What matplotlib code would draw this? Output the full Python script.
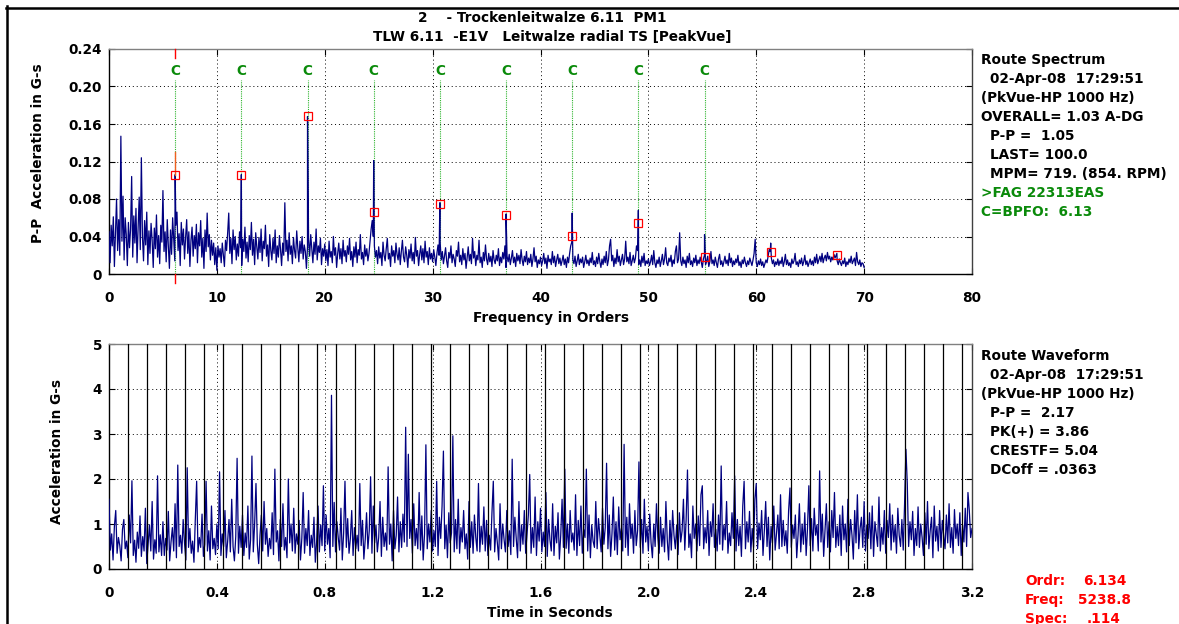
import numpy as np
import matplotlib
matplotlib.use("Agg")
import matplotlib.pyplot as plt
from matplotlib.lines import Line2D

plt.rcParams['font.family'] = ['DejaVu Sans']
plt.rcParams['font.weight'] = 'bold'
plt.rcParams['font.size'] = 10
FS = 9.85

# ---------------- data ----------------
title_line1 = "2    - Trockenleitwalze 6.11  PM1"
title_line2 = "TLW 6.11  -E1V   Leitwalze radial TS [PeakVue]"

# spectrum: noise floor in milli-G, one value per 0.1 order from 0 to 70
spec_step = 0.1
spec_mg = [
    45, 12, 52, 30, 61, 8, 44, 80, 25, 58, 20, 147, 35, 83, 15, 60, 42, 9, 55, 28,
    48, 104, 18, 62, 33, 70, 12, 50, 82, 26, 124, 40, 14, 57, 31, 66, 10, 46, 22, 54,
    36, 7, 49, 27, 63, 18, 41, 11, 52, 34,
    89, 24, 45, 13, 58, 30, 6, 47, 21, 60, 38, 14, 52, 66, 25, 43, 9, 55, 31, 48,
    16, 39, 58, 22, 45, 8, 36, 50, 19, 41, 27, 53, 12, 44, 30, 57, 18, 38, 6, 47,
    24, 65, 29, 42, 15, 36, 20, 33, 10, 28,
    4, 30, 18, 27, 12, 33, 21, 8, 36, 25, 44, 65, 22, 38, 11, 47, 26, 40, 15, 32,
    19, 45, 28, 9, 37, 24, 50, 17, 34, 13, 41, 26, 55, 20, 37, 10, 44, 29, 16, 39,
    23, 48, 14, 35, 27, 52, 19, 31, 8, 42,
    25, 15, 38, 22, 47, 12, 30, 18, 41, 26, 9, 33, 20, 76, 24, 36, 14, 44, 21, 30,
    11, 39, 25, 17, 46, 28, 13, 35, 22, 40, 16, 31, 24, 6, 29, 37, 19, 42, 27, 12,
    34, 21, 48, 15, 30, 23, 38, 10, 27, 19,
    32, 14, 26, 9, 35, 18, 24, 12, 40, 20, 28, 7, 22, 33, 16, 27, 11, 36, 19, 25,
    13, 30, 21, 38, 15, 24, 8, 29, 18, 34, 12, 26, 20, 42, 16, 23, 10, 31, 19, 27,
    14, 22, 35, 48, 57, 40, 30, 18, 25, 11,
    29, 17, 23, 9, 34, 20, 14, 27, 38, 16, 22, 8, 30, 19, 25, 12, 33, 21, 15, 28,
    10, 24, 36, 18, 13, 29, 20, 7, 26, 17, 32, 14, 23, 11, 39, 19, 25, 9, 21, 30,
    15, 27, 12, 35, 18, 24, 10, 28, 16, 22,
    13, 26, 18, 9, 22, 31, 20, 33, 15, 24, 11, 19, 28, 14, 7, 23, 17, 30, 12, 21,
    16, 8, 25, 19, 34, 13, 20, 10, 27, 15, 22, 6, 18, 29, 14, 21, 11, 38, 17, 24,
    9, 20, 15, 36, 12, 18, 7, 23, 14, 31,
    16, 10, 22, 13, 19, 8, 25, 15, 11, 20, 14, 27, 9, 18, 12, 23, 16, 30, 7, 19,
    13, 21, 10, 17, 25, 12, 18, 8, 22, 14, 20, 11, 26, 15, 9, 19, 13, 24, 10, 17,
    12, 21, 8, 16, 28, 13, 19, 7, 15, 11,
    18, 9, 14, 22, 11, 17, 6, 20, 13, 16, 10, 24, 12, 19, 8, 15, 21, 11, 17, 9,
    14, 20, 10, 16, 7, 18, 12, 22, 30, 34, 15, 11, 19, 8, 14, 21, 10, 16, 12, 18,
    7, 13, 20, 11, 15, 9, 17, 12, 23, 10,
    14, 8, 18, 11, 22, 13, 7, 16, 10, 19, 12, 24, 9, 15, 30, 37, 14, 20, 8, 17,
    11, 26, 13, 19, 9, 15, 21, 10, 16, 35, 13, 18, 11, 23, 9, 14, 20, 12, 17, 30,
    25, 10, 15, 8, 19, 12, 22, 9, 14, 11,
    16, 9, 13, 20, 10, 25, 12, 7, 15, 11, 18, 8, 14, 21, 10, 16, 28, 12, 9, 17,
    13, 20, 8, 15, 11, 24, 30, 12, 16, 44, 14, 9, 18, 11, 15, 7, 19, 12, 22, 10,
    14, 8, 17, 12, 20, 9, 15, 11, 18, 13,
    7, 16, 20, 10, 14, 19, 8, 13, 24, 11, 15, 9, 18, 12, 7, 16, 21, 10, 14, 8,
    13, 19, 11, 15, 9, 22, 12, 17, 8, 14, 10, 16, 12, 20, 9, 13, 7, 15, 11, 18,
    12, 8, 14, 10, 17, 13, 9, 15, 22, 37,
    12, 8, 14, 10, 16, 9, 13, 7, 11, 15, 12, 19, 26, 24, 17, 11, 15, 8, 13, 10,
    16, 9, 14, 11, 18, 8, 13, 21, 10, 15, 9, 12, 7, 16, 11, 14, 22, 10, 13, 8,
    15, 11, 17, 9, 13, 20, 10, 14, 8, 12,
    16, 10, 14, 9, 18, 12, 21, 11, 15, 19, 13, 22, 12, 17, 20, 14, 23, 16, 19, 13,
    18, 15, 21, 17, 20, 14, 10, 16, 12, 9, 14, 11, 17, 8, 13, 10, 16, 12, 19, 11,
    14, 17, 9, 23, 13, 10, 15, 8, 12, 11, 7,
]

bpfo_order = 6.134          # cursor / C=BPFO harmonic spacing
n_c_labels = 9
harm_peak_mg = [106, 106, 168, 121, 76, 64, 65, 68, 42, 33, 22]          # spectrum lines at harmonics
harm_marker_mg = [105.6, 105.6, 168, 66.5, 74.7, 63, 40.2, 54.4, 18.5, 23, 20]  # red squares

# waveform: acceleration in 0.01 G, one value every 5 ms from 0 to 3.2 s
wave_step = 0.005
wave_cg = [
    155, 42, 78, 20, 95, 130, 35, 70, 52, 18, 88, 110, 45, 62, 25, 120, 58, 196, 30, 64,
    15, 82, 46, 118, 28, 72, 40, 135, 12, 54, 98, 40, 150, 22, 65, 35, 207, 38, 76, 30,
    105, 30, 68, 42, 128, 18, 60, 92, 40, 145, 25, 231, 50, 75, 35, 110, 58, 20, 225, 48,
    90, 35, 62, 15, 110, 195, 38, 70, 48, 122, 28, 55, 195, 40, 85, 20, 140, 45, 68, 32,
    100, 45, 216, 30, 78, 50, 130, 25, 62, 110, 38, 155, 50, 18, 72, 246, 35, 95, 48, 120,
    30, 80, 48, 140, 22, 65, 251, 38, 100, 190, 55, 12, 75, 120, 40, 150, 55, 90, 28, 68,
    45, 125, 32, 222, 60, 85, 18, 110, 50, 145, 42, 70, 25, 200, 58, 100, 40, 135, 35, 78,
    55, 108, 20, 68, 170, 35, 90, 52, 130, 30, 75, 48, 115, 15, 62, 140, 38, 98, 52, 185,
    40, 120, 55, 90, 25, 386, 50, 148, 38, 105, 70, 42, 135, 20, 80, 195, 48, 112, 35, 68,
    130, 30, 92, 45, 75, 40, 190, 52, 108, 22, 65, 125, 45, 85, 205, 35, 140, 58, 98, 38,
    70, 150, 28, 115, 50, 80, 42, 227, 55, 100, 18, 130, 45, 75, 160, 38, 105, 48, 122, 60,
    315, 50, 255, 68, 110, 35, 145, 52, 90, 45, 170, 42, 118, 20, 78, 276, 45, 100, 60, 130,
    40, 85, 50, 195, 30, 115, 68, 140, 262, 45, 98, 25, 125, 58, 80, 296, 38, 110, 45, 155,
    35, 92, 60, 130, 45, 78, 22, 150, 48, 105, 35, 120, 70, 40, 190, 38, 95, 55, 138, 40,
    108, 30, 75, 42, 125, 195, 38, 90, 58, 20, 145, 45, 100, 65, 38, 130, 50, 85, 32, 244,
    50, 115, 68, 25, 150, 40, 98, 55, 130, 35, 78, 120, 210, 35, 92, 48, 160, 30, 105, 62,
    135, 38, 82, 50, 170, 28, 110, 65, 40, 145, 30, 95, 58, 125, 22, 75, 155, 48, 222, 46,
    100, 35, 130, 60, 80, 42, 165, 30, 108, 52, 140, 35, 88, 70, 222, 40, 120, 25, 98, 62,
    48, 150, 45, 112, 75, 38, 135, 55, 92, 235, 45, 120, 28, 78, 160, 42, 105, 32, 138, 65,
    90, 40, 277, 48, 115, 30, 145, 68, 100, 35, 130, 52, 85, 238, 48, 110, 35, 155, 60, 95,
    40, 122, 58, 25, 100, 50, 145, 72, 35, 115, 50, 90, 38, 150, 65, 20, 108, 42, 130, 75,
    45, 98, 32, 125, 60, 85, 155, 42, 110, 220, 48, 78, 25, 140, 68, 100, 40, 118, 52, 165,
    185, 45, 92, 58, 130, 30, 105, 72, 145, 48, 88, 40, 120, 55, 229, 42, 98, 65, 150, 35,
    80, 52, 125, 68, 207, 40, 110, 52, 95, 28, 140, 195, 45, 105, 60, 128, 38, 90, 48, 155,
    190, 45, 102, 65, 130, 30, 85, 150, 50, 115, 20, 95, 58, 140, 42, 78, 120, 45, 165, 50,
    108, 52, 85, 35, 130, 180, 48, 98, 68, 120, 25, 76, 145, 38, 100, 55, 125, 30, 90, 185,
    52, 112, 40, 135, 75, 98, 40, 218, 60, 122, 28, 85, 145, 48, 105, 38, 130, 70, 170, 48,
    95, 52, 120, 30, 140, 65, 100, 38, 155, 52, 110, 75, 22, 130, 58, 165, 45, 90, 115, 48,
    150, 40, 98, 68, 125, 45, 140, 28, 105, 78, 50, 160, 40, 92, 55, 130, 35, 108, 70, 145,
    42, 120, 60, 98, 35, 135, 75, 50, 110, 42, 145, 266, 190, 50, 105, 65, 128, 30, 90, 52,
    138, 48, 100, 70, 30, 125, 55, 150, 45, 85, 115, 25, 140, 62, 95, 40, 130, 48, 108, 75,
    45, 120, 58, 145, 48, 92, 35, 132, 68, 100, 52, 125, 30, 98, 60, 135, 50, 170, 130, 70,
    90,
]
shaft_rpm = 854.0
n_rev_lines = 45

spec_info = [("Route Spectrum", 0, 'k'), ("02-Apr-08  17:29:51", 1, 'k'),
             ("(PkVue-HP 1000 Hz)", 0, 'k'), ("OVERALL= 1.03 A-DG", 0, 'k'),
             ("P-P =  1.05", 1, 'k'), ("LAST= 100.0", 1, 'k'),
             ("MPM= 719. (854. RPM)", 1, 'k'), (">FAG 22313EAS", 0, 'g'),
             ("C=BPFO:  6.13", 0, 'g')]
wave_info = [("Route Waveform", 0), ("02-Apr-08  17:29:51", 1), ("(PkVue-HP 1000 Hz)", 0),
             ("P-P =  2.17", 1), ("PK(+) = 3.86", 1), ("CRESTF= 5.04", 1), ("DCoff = .0363", 1)]
cursor_labels = ["Ordr:", "Freq:", "Spec:"]
cursor_values = ["6.134", "5238.8", ".114"]

spec_xticks = [0, 10, 20, 30, 40, 50, 60, 70, 80]
spec_yticks = [0, 0.04, 0.08, 0.12, 0.16, 0.20, 0.24]
spec_ytick_labels = ["0", "0.04", "0.08", "0.12", "0.16", "0.20", "0.24"]
wave_xticks = [0, 0.4, 0.8, 1.2, 1.6, 2.0, 2.4, 2.8, 3.2]
wave_xtick_labels = ["0", "0.4", "0.8", "1.2", "1.6", "2.0", "2.4", "2.8", "3.2"]
wave_yticks = [0, 1, 2, 3, 4, 5]

# ---------------- figure ----------------
W, H = 1179, 624
fig = plt.figure(figsize=(W / 100, H / 100), dpi=100)
fig.patch.set_facecolor('white')


def fx(px):
    return px / W


def fy(py):
    return 1 - py / H


NAVY = '#000080'
GREEN_T = '#0a8a0a'
GREEN_L = '#2fb52f'
RED = '#ff0000'

ax1 = fig.add_axes([fx(109), fy(274), fx(972) - fx(109), fy(49) - fy(274)])
ax2 = fig.add_axes([fx(109), fy(569), fx(972) - fx(109), fy(344) - fy(569)])

for ax in (ax1, ax2):
    ax.grid(True, linestyle=(0, (1, 3)), color='k', linewidth=0.7)
    ax.tick_params(direction='in', length=4, top=True, right=True, width=0.8,
                   labelsize=FS, colors='k')
    ax.tick_params(axis='x', pad=12)
    ax.tick_params(axis='y', pad=5)
    ax.spines['left'].set_color('k')
    ax.spines['bottom'].set_color('k')
    ax.spines['top'].set_color('#808080')
    ax.spines['right'].set_color('#404040')
    for s in ax.spines.values():
        s.set_linewidth(1.0)

# ---- spectrum ----
spec_orders = np.arange(len(spec_mg)) * spec_step
harm_orders = bpfo_order * np.arange(1, len(harm_peak_mg) + 1)
x_all = np.concatenate([spec_orders, harm_orders])
y_all = np.concatenate([np.array(spec_mg, float), np.array(harm_peak_mg, float)]) / 1000.0
idx = np.argsort(x_all, kind='stable')

# cursor (red) segments
ax1.plot([bpfo_order, bpfo_order], [0.24, 0.2304], color=RED, lw=1, clip_on=False, zorder=5)
ax1.plot([bpfo_order, bpfo_order], [0, -0.0096], color=RED, lw=1, clip_on=False, zorder=5)
ax1.plot([bpfo_order, bpfo_order], [0.106, 0.130], color='#f06020', lw=1, zorder=5)

# C harmonic markers
for k in range(n_c_labels):
    xo = harm_orders[k]
    ax1.plot([xo, xo], [0, 0.207], color=GREEN_L, lw=0.8, linestyle=(0, (1, 1)), zorder=3)
    ax1.text(xo, 0.2165, "C", color=GREEN_T, ha='center', va='center',
             fontsize=FS, fontweight='bold')

ax1.plot(x_all[idx], y_all[idx], color=NAVY, lw=0.9, zorder=4)
ax1.plot(harm_orders, np.array(harm_marker_mg) / 1000.0, linestyle='none', marker='s',
         markersize=5.5, markerfacecolor='none', markeredgecolor=RED, markeredgewidth=0.9,
         zorder=6)

ax1.set_xlim(0, 80)
ax1.set_ylim(0, 0.24)
ax1.set_xticks(spec_xticks)
ax1.set_xticklabels([str(v) for v in spec_xticks], fontweight='bold')
ax1.set_yticks(spec_yticks)
ax1.set_yticklabels(spec_ytick_labels, fontweight='bold')

# ---- waveform ----
t = np.arange(len(wave_cg)) * wave_step
ax2.plot(t, np.array(wave_cg) / 100.0, color=NAVY, lw=0.9, zorder=3)
rev_period = 60.0 / shaft_rpm
for k in range(1, n_rev_lines + 1):
    ax2.axvline(k * rev_period, color='k', lw=0.9, zorder=4)
ax2.set_xlim(0, 3.2)
ax2.set_ylim(0, 5)
ax2.set_xticks(wave_xticks)
ax2.set_xticklabels(wave_xtick_labels, fontweight='bold')
ax2.set_yticks(wave_yticks)
ax2.set_yticklabels([str(v) for v in wave_yticks], fontweight='bold')

# ---- labels ----
fig.text(fx(418), fy(18), title_line1, ha='left', va='center', fontsize=FS, fontweight='bold')
fig.text(fx(373), fy(37), title_line2, ha='left', va='center', fontsize=FS, fontweight='bold')
fig.text(fx(38), fy(153), "P-P  Acceleration in G-s", rotation=90, ha='center', va='center',
         fontsize=FS, fontweight='bold')
fig.text(fx(57), fy(451), "Acceleration in G-s", rotation=90, ha='center', va='center',
         fontsize=FS, fontweight='bold')
fig.text(fx(551), fy(318), "Frequency in Orders", ha='center', va='center', fontsize=FS,
         fontweight='bold')
fig.text(fx(550), fy(613), "Time in Seconds", ha='center', va='center', fontsize=FS,
         fontweight='bold')

for i, (s, ind, c) in enumerate(spec_info):
    fig.text(fx(981 + 9 * ind), fy(60 + 19 * i), s, ha='left', va='center', fontsize=FS,
             fontweight='bold', color=GREEN_T if c == 'g' else 'k')
for i, (s, ind) in enumerate(wave_info):
    fig.text(fx(981 + 9 * ind), fy(356 + 19 * i), s, ha='left', va='center', fontsize=FS,
             fontweight='bold', color='k')
val_x = [1083, 1078, 1087]
for i, (lab, val) in enumerate(zip(cursor_labels, cursor_values)):
    fig.text(fx(1025), fy(581 + 19 * i), lab, ha='left', va='center', fontsize=FS,
             fontweight='bold', color=RED)
    fig.text(fx(val_x[i]), fy(581 + 19 * i), val, ha='left', va='center', fontsize=FS,
             fontweight='bold', color=RED)

# figure frame
fig.add_artist(Line2D([fx(6), 1.0], [fy(7.5), fy(7.5)], color='k', lw=1.8,
                      transform=fig.transFigure))
fig.add_artist(Line2D([fx(7.5), fx(7.5)], [fy(6), 0.0], color='k', lw=1.8,
                      transform=fig.transFigure))

fig.savefig("out.png", dpi=100, facecolor='white')
